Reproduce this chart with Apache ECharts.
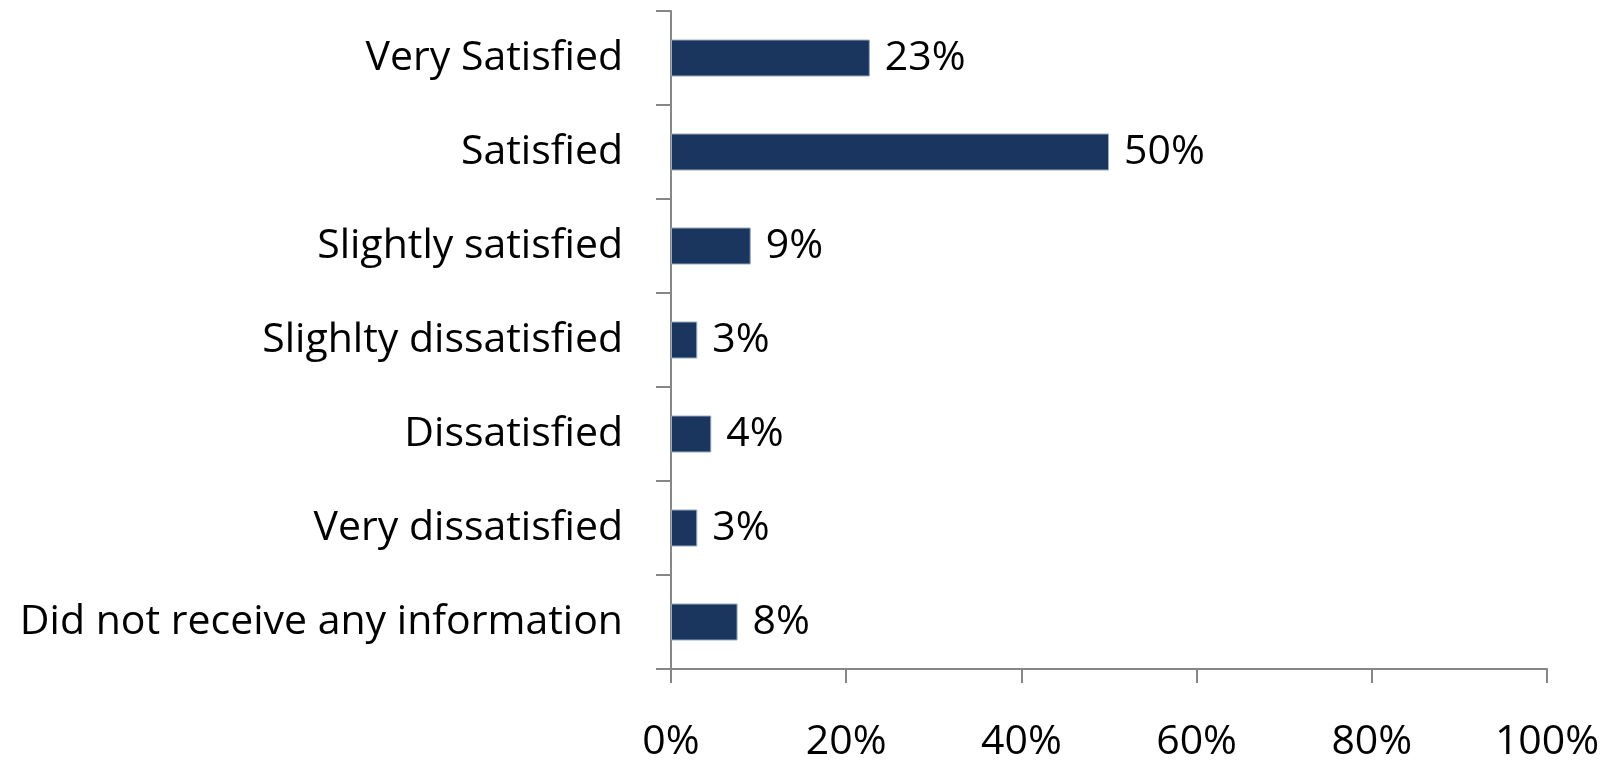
<!DOCTYPE html>
<html>
<head>
<meta charset="utf-8">
<script src="https://cdn.jsdelivr.net/npm/echarts@6/dist/echarts.min.js"></script>
<style>
html,body{margin:0;padding:0;background:#fff;}
#chart{width:1610px;height:763px;}
</style>
</head>
<body>
<div id="chart"></div>
<script>
const categories = ["Very Satisfied","Satisfied","Slightly satisfied","Slighlty dissatisfied","Dissatisfied","Very dissatisfied","Did not receive any information"];
const values = [22.7, 50.0, 9.1, 3.0, 4.6, 3.0, 7.6];
const valueLabels = ["23%","50%","9%","3%","4%","3%","8%"];
const xTicks = [0, 20, 40, 60, 80, 100];

const FONT = "Open Sans";
const FS = 41;
const chart = echarts.init(document.getElementById('chart'), null, {renderer:'canvas'});
chart.setOption({
  animation:false,
  backgroundColor:'#ffffff',
  grid:{left:671, right:63, top:11, bottom:93, containLabel:false},
  xAxis:{
    type:'value', min:xTicks[0], max:xTicks[xTicks.length-1], interval:20,
    axisLine:{show:true, lineStyle:{color:'#868686', width:2}},
    axisTick:{show:true, length:14, lineStyle:{color:'#868686', width:2}},
    splitLine:{show:false},
    axisLabel:{formatter:'{value}%', color:'#000', fontFamily:FONT, fontSize:FS, margin:53}
  },
  yAxis:{
    type:'category', data:categories, inverse:true,
    axisLine:{show:true, lineStyle:{color:'#868686', width:2}},
    axisTick:{show:true, length:15, lineStyle:{color:'#868686', width:2}},
    axisLabel:{color:'#000', fontFamily:FONT, fontSize:FS, margin:48}
  },
  series:[{
    type:'bar', data:values, barWidth:37,
    itemStyle:{color:'#1a365e', borderColor:'#98a8bd', borderWidth:1},
    label:{show:true, position:'right', distance:15, color:'#000', fontFamily:FONT, fontSize:FS,
      formatter:(p)=>valueLabels[p.dataIndex]}
  }]
});
</script>
</body>
</html>
